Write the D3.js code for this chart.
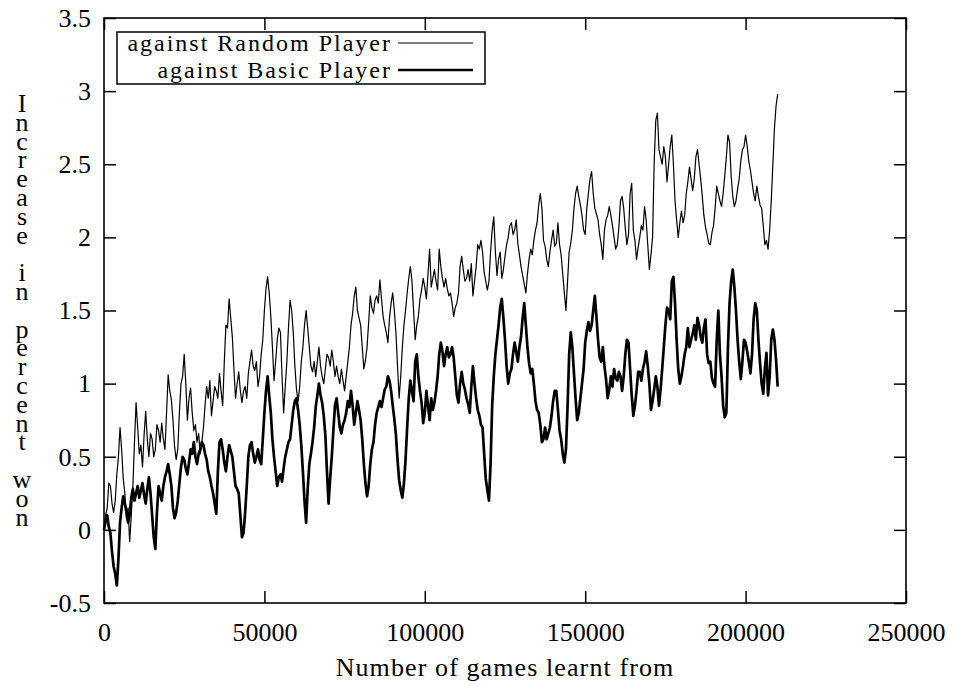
<!DOCTYPE html>
<html>
<head>
<meta charset="utf-8">
<script src="https://cdn.jsdelivr.net/npm/d3@7"></script>
<style>
  body { margin: 0; background: #fff; }
  svg { display: block; }
  text { font-family: "Liberation Serif", "Times New Roman", serif; fill: #000; }
</style>
</head>
<body>
<div id="chart"></div>
<script>
// games learnt from, in thousands
const gamesK = [
  0, 0.5, 1, 1.5, 2, 2.5, 3, 3.5, 4, 4.5, 5, 5.5, 6, 6.5, 7, 7.5, 8, 8.5, 9, 9.5,
  10, 10.5, 11, 11.5, 12, 12.5, 13, 13.5, 14, 14.5, 15, 15.5, 16, 16.5, 17, 17.5, 18, 18.5, 19, 19.5,
  20, 20.5, 21, 21.5, 22, 22.5, 23, 23.5, 24, 24.5, 25, 25.5, 26, 26.5, 27, 27.5, 28, 28.5, 29, 29.5,
  30, 30.5, 31, 31.5, 32, 32.5, 33, 33.5, 34, 34.5, 35, 35.5, 36, 36.5, 37, 37.5, 38, 38.5, 39, 39.5,
  40, 40.5, 41, 41.5, 42, 42.5, 43, 43.5, 44, 44.5, 45, 45.5, 46, 46.5, 47, 47.5, 48, 48.5, 49, 49.5,
  50, 50.5, 51, 51.5, 52, 52.5, 53, 53.5, 54, 54.5, 55, 55.5, 56, 56.5, 57, 57.5, 58, 58.5, 59, 59.5,
  60, 60.5, 61, 61.5, 62, 62.5, 63, 63.5, 64, 64.5, 65, 65.5, 66, 66.5, 67, 67.5, 68, 68.5, 69, 69.5,
  70, 70.5, 71, 71.5, 72, 72.5, 73, 73.5, 74, 74.5, 75, 75.5, 76, 76.5, 77, 77.5, 78, 78.5, 79, 79.5,
  80, 80.5, 81, 81.5, 82, 82.5, 83, 83.5, 84, 84.5, 85, 85.5, 86, 86.5, 87, 87.5, 88, 88.5, 89, 89.5,
  90, 90.5, 91, 91.5, 92, 92.5, 93, 93.5, 94, 94.5, 95, 95.5, 96, 96.5, 97, 97.5, 98, 98.5, 99, 99.5,
  100, 100.5, 101, 101.5, 102, 102.5, 103, 103.5, 104, 104.5, 105, 105.5, 106, 106.5, 107, 107.5, 108, 108.5, 109, 109.5,
  110, 110.5, 111, 111.5, 112, 112.5, 113, 113.5, 114, 114.5, 115, 115.5, 116, 116.5, 117, 117.5, 118, 118.5, 119, 119.5,
  120, 120.5, 121, 121.5, 122, 122.5, 123, 123.5, 124, 124.5, 125, 125.5, 126, 126.5, 127, 127.5, 128, 128.5, 129, 129.5,
  130, 130.5, 131, 131.5, 132, 132.5, 133, 133.5, 134, 134.5, 135, 135.5, 136, 136.5, 137, 137.5, 138, 138.5, 139, 139.5,
  140, 140.5, 141, 141.5, 142, 142.5, 143, 143.5, 144, 144.5, 145, 145.5, 146, 146.5, 147, 147.5, 148, 148.5, 149, 149.5,
  150, 150.5, 151, 151.5, 152, 152.5, 153, 153.5, 154, 154.5, 155, 155.5, 156, 156.5, 157, 157.5, 158, 158.5, 159, 159.5,
  160, 160.5, 161, 161.5, 162, 162.5, 163, 163.5, 164, 164.5, 165, 165.5, 166, 166.5, 167, 167.5, 168, 168.5, 169, 169.5,
  170, 170.5, 171, 171.5, 172, 172.5, 173, 173.5, 174, 174.5, 175, 175.5, 176, 176.5, 177, 177.5, 178, 178.5, 179, 179.5,
  180, 180.5, 181, 181.5, 182, 182.5, 183, 183.5, 184, 184.5, 185, 185.5, 186, 186.5, 187, 187.5, 188, 188.5, 189, 189.5,
  190, 190.5, 191, 191.5, 192, 192.5, 193, 193.5, 194, 194.5, 195, 195.5, 196, 196.5, 197, 197.5, 198, 198.5, 199, 199.5,
  200, 200.5, 201, 201.5, 202, 202.5, 203, 203.5, 204, 204.5, 205, 205.5, 206, 206.5, 207, 207.5, 208, 208.5, 209, 209.5,
  210
];

// increase in percent won against the random player (thin line)
const randomWon = [
  0.00, 0.10, 0.15, 0.32, 0.30, 0.18, 0.12, 0.20, 0.38, 0.50, 0.70, 0.55, 0.35, 0.25, 0.08, 0.15, -0.08, 0.10, 0.30, 0.60,
  0.87, 0.70, 0.52, 0.58, 0.43, 0.65, 0.81, 0.62, 0.50, 0.66, 0.62, 0.50, 0.55, 0.72, 0.68, 0.60, 0.73, 0.62, 0.55, 0.80,
  1.06, 0.95, 0.89, 0.75, 0.57, 0.48, 0.55, 0.80, 1.00, 1.05, 1.20, 1.00, 0.75, 0.90, 0.97, 0.80, 0.68, 0.72, 0.60, 0.66,
  0.52, 0.60, 0.70, 0.85, 0.98, 0.90, 1.02, 0.78, 0.88, 0.98, 0.95, 0.90, 1.07, 0.95, 0.85, 1.15, 1.40, 1.38, 1.58, 1.45,
  1.32, 1.10, 0.90, 1.00, 1.08, 0.95, 0.87, 0.95, 0.98, 0.90, 1.07, 1.15, 1.23, 1.12, 1.09, 1.15, 0.98, 1.05, 1.20, 1.30,
  1.50, 1.65, 1.73, 1.62, 1.46, 1.25, 1.02, 1.15, 1.30, 1.38, 1.35, 1.05, 0.80, 0.98, 1.15, 1.38, 1.57, 1.50, 1.35, 1.12,
  0.96, 0.88, 0.98, 1.15, 1.25, 1.40, 1.50, 1.38, 1.25, 1.12, 1.08, 1.15, 1.05, 1.15, 1.25, 1.12, 1.05, 1.00, 1.10, 1.20,
  1.18, 1.12, 1.23, 1.15, 1.05, 1.12, 1.05, 1.00, 1.10, 1.02, 0.95, 1.05, 1.15, 1.25, 1.40, 1.48, 1.60, 1.66, 1.50, 1.45,
  1.40, 1.25, 1.10, 1.16, 1.25, 1.42, 1.60, 1.52, 1.48, 1.57, 1.60, 1.55, 1.71, 1.58, 1.46, 1.40, 1.35, 1.28, 1.45, 1.55,
  1.62, 1.50, 1.35, 1.12, 0.90, 1.05, 1.25, 1.40, 1.50, 1.62, 1.72, 1.80, 1.70, 1.50, 1.30, 1.40, 1.46, 1.58, 1.64, 1.72,
  1.66, 1.58, 1.75, 1.92, 1.66, 1.72, 1.78, 1.70, 1.64, 1.92, 1.80, 1.72, 1.66, 1.72, 1.65, 1.60, 1.62, 1.55, 1.46, 1.52,
  1.55, 1.62, 1.80, 1.87, 1.78, 1.70, 1.72, 1.78, 1.70, 1.82, 1.60, 1.70, 1.80, 1.95, 1.92, 1.98, 1.90, 1.76, 1.70, 1.64,
  1.70, 1.90, 2.05, 2.14, 1.90, 1.74, 1.85, 1.90, 1.72, 1.78, 1.87, 1.95, 2.00, 2.08, 2.10, 2.02, 2.05, 2.12, 1.96, 1.88,
  1.80, 1.74, 1.68, 1.62, 1.75, 1.85, 1.92, 1.88, 1.98, 2.05, 2.10, 2.22, 2.30, 2.20, 1.98, 1.94, 1.85, 1.80, 1.90, 1.98,
  2.05, 1.94, 1.96, 2.10, 1.95, 1.88, 1.75, 1.62, 1.50, 1.70, 1.90, 1.96, 2.05, 2.20, 2.30, 2.35, 2.28, 2.22, 2.15, 2.05,
  2.02, 2.20, 2.30, 2.40, 2.45, 2.30, 2.20, 2.16, 2.12, 2.02, 1.95, 1.85, 2.05, 2.12, 2.15, 2.21, 2.15, 2.08, 2.00, 1.92,
  1.95, 2.07, 2.25, 2.28, 2.20, 2.06, 1.95, 2.02, 2.30, 2.37, 2.05, 1.98, 1.85, 1.93, 2.00, 2.08, 2.05, 2.21, 2.12, 1.95,
  1.78, 1.88, 2.00, 2.51, 2.80, 2.85, 2.60, 2.55, 2.50, 2.62, 2.55, 2.38, 2.50, 2.62, 2.70, 2.50, 2.25, 2.12, 2.00, 2.10,
  2.18, 2.10, 2.15, 2.30, 2.38, 2.48, 2.40, 2.32, 2.40, 2.55, 2.60, 2.50, 2.40, 2.28, 2.15, 2.07, 2.02, 1.96, 1.95, 2.03,
  2.08, 2.20, 2.35, 2.30, 2.25, 2.21, 2.30, 2.42, 2.55, 2.70, 2.65, 2.42, 2.28, 2.21, 2.25, 2.33, 2.40, 2.52, 2.60, 2.62,
  2.70, 2.62, 2.52, 2.46, 2.38, 2.30, 2.25, 2.35, 2.28, 2.22, 2.20, 2.08, 1.95, 1.98, 1.92, 2.05, 2.25, 2.50, 2.75, 2.90,
  2.98
];

// increase in percent won against the basic player (thick line)
const basicWon = [
  0.00, 0.06, 0.10, 0.02, -0.02, -0.15, -0.25, -0.30, -0.38, -0.20, 0.05, 0.15, 0.23, 0.18, 0.12, 0.05, 0.10, 0.22, 0.28, 0.20,
  0.25, 0.30, 0.22, 0.27, 0.32, 0.24, 0.18, 0.28, 0.36, 0.25, 0.10, -0.05, -0.13, 0.12, 0.30, 0.25, 0.20, 0.30, 0.36, 0.40,
  0.45, 0.38, 0.30, 0.15, 0.08, 0.12, 0.20, 0.32, 0.43, 0.50, 0.48, 0.42, 0.38, 0.46, 0.55, 0.52, 0.60, 0.50, 0.45, 0.52,
  0.55, 0.60, 0.58, 0.52, 0.48, 0.40, 0.36, 0.30, 0.25, 0.18, 0.11, 0.40, 0.60, 0.62, 0.55, 0.46, 0.40, 0.50, 0.58, 0.54,
  0.50, 0.40, 0.30, 0.28, 0.25, 0.10, -0.05, -0.02, 0.12, 0.30, 0.50, 0.58, 0.60, 0.52, 0.46, 0.50, 0.55, 0.48, 0.45, 0.62,
  0.80, 0.95, 1.05, 0.92, 0.80, 0.62, 0.50, 0.40, 0.30, 0.36, 0.38, 0.33, 0.42, 0.50, 0.55, 0.60, 0.62, 0.72, 0.82, 0.88,
  0.90, 0.82, 0.72, 0.58, 0.40, 0.20, 0.05, 0.28, 0.45, 0.52, 0.60, 0.70, 0.84, 0.92, 1.00, 0.92, 0.87, 0.78, 0.65, 0.40,
  0.18, 0.35, 0.50, 0.68, 0.85, 0.90, 0.80, 0.70, 0.66, 0.72, 0.75, 0.80, 0.88, 0.84, 0.95, 0.85, 0.72, 0.80, 0.88, 0.82,
  0.75, 0.62, 0.45, 0.32, 0.23, 0.30, 0.45, 0.55, 0.60, 0.72, 0.80, 0.84, 0.88, 0.84, 0.90, 0.96, 0.98, 1.05, 1.02, 0.95,
  0.85, 0.76, 0.65, 0.48, 0.34, 0.27, 0.22, 0.32, 0.48, 0.70, 0.90, 1.02, 0.95, 0.88, 1.15, 1.20, 1.05, 0.95, 0.87, 0.73,
  0.80, 0.95, 0.85, 0.75, 0.90, 0.82, 0.87, 0.95, 1.05, 1.20, 1.28, 1.22, 1.12, 1.20, 1.25, 1.18, 1.20, 1.25, 1.18, 1.05,
  0.92, 0.87, 1.00, 1.08, 1.00, 0.96, 0.90, 0.86, 0.80, 0.98, 1.12, 1.00, 0.90, 0.82, 0.78, 0.72, 0.70, 0.52, 0.35, 0.27,
  0.20, 0.45, 0.85, 1.05, 1.20, 1.30, 1.40, 1.52, 1.58, 1.45, 1.30, 1.12, 1.00, 1.07, 1.10, 1.20, 1.28, 1.22, 1.15, 1.25,
  1.32, 1.45, 1.55, 1.40, 1.25, 1.14, 1.07, 1.10, 1.00, 0.88, 0.82, 0.80, 0.72, 0.60, 0.62, 0.70, 0.62, 0.66, 0.70, 0.78,
  0.88, 0.95, 0.95, 0.82, 0.68, 0.62, 0.52, 0.46, 0.55, 0.84, 1.20, 1.35, 1.25, 1.07, 0.90, 0.75, 0.80, 0.90, 1.00, 1.10,
  1.28, 1.36, 1.42, 1.36, 1.40, 1.50, 1.60, 1.46, 1.30, 1.18, 1.15, 1.25, 1.12, 1.03, 0.90, 0.96, 1.05, 0.98, 1.10, 1.04,
  1.02, 1.08, 1.05, 0.95, 1.05, 1.20, 1.30, 1.28, 1.10, 0.92, 0.78, 0.85, 0.95, 1.08, 1.08, 1.02, 1.10, 1.15, 1.22, 1.12,
  1.00, 0.82, 0.88, 0.96, 1.05, 0.98, 0.85, 0.96, 1.10, 1.25, 1.40, 1.52, 1.50, 1.44, 1.70, 1.73, 1.55, 1.30, 1.10, 1.00,
  1.05, 1.12, 1.20, 1.25, 1.38, 1.25, 1.30, 1.34, 1.40, 1.30, 1.45, 1.40, 1.32, 1.28, 1.38, 1.44, 1.20, 1.14, 1.15, 1.04,
  1.00, 0.98, 1.30, 1.50, 1.20, 1.05, 0.85, 0.77, 0.80, 1.25, 1.55, 1.70, 1.78, 1.66, 1.50, 1.30, 1.15, 1.03, 1.15, 1.30,
  1.28, 1.22, 1.15, 1.07, 1.20, 1.44, 1.55, 1.50, 1.30, 1.14, 1.00, 0.93, 1.10, 1.21, 0.92, 1.05, 1.30, 1.37, 1.30, 1.16,
  0.98
];

const xTicks = [0, 50000, 100000, 150000, 200000, 250000];
const yTicks = [-0.5, 0, 0.5, 1, 1.5, 2, 2.5, 3, 3.5];
const seriesNames = ["against Random Player", "against Basic Player"];
const yTitle = "Increase in percent won";
const xTitle = "Number of games learnt from";

const width = 959;
const height = 686;
const plotLeft = 104, plotRight = 906, plotTop = 18, plotBottom = 603;

const svg = d3.select("#chart").append("svg")
    .attr("width", width)
    .attr("height", height);

svg.append("rect").attr("width", width).attr("height", height).attr("fill", "#fff");

const x = d3.scaleLinear().domain([0, 250000]).range([plotLeft, plotRight]);
const y = d3.scaleLinear().domain([-0.5, 3.5]).range([plotBottom, plotTop]);

const fmt = d => String(d);

function styleAxis(g) {
    g.select(".domain").remove();
    g.selectAll(".tick line").attr("stroke", "#000").attr("stroke-width", 1.5);
    g.selectAll(".tick text")
        .attr("font-family", "'Liberation Serif', serif")
        .attr("font-size", 26)
        .attr("fill", "#000");
}

// mirrored ticks (top / right) carry no labels
function bareAxis(g) {
    styleAxis(g);
    g.selectAll(".tick text").remove();
}

svg.append("g")
    .attr("transform", `translate(0,${plotBottom})`)
    .call(d3.axisBottom(x).tickValues(xTicks).tickFormat(fmt).tickSizeInner(-12).tickSizeOuter(0).tickPadding(20))
    .call(styleAxis);

svg.append("g")
    .attr("transform", `translate(0,${plotTop})`)
    .call(d3.axisTop(x).tickValues(xTicks).tickSizeInner(-12).tickSizeOuter(0))
    .call(bareAxis);

svg.append("g")
    .attr("transform", `translate(${plotLeft},0)`)
    .call(d3.axisLeft(y).tickValues(yTicks).tickFormat(fmt).tickSizeInner(-12).tickSizeOuter(0).tickPadding(13))
    .call(styleAxis);

svg.append("g")
    .attr("transform", `translate(${plotRight},0)`)
    .call(d3.axisRight(y).tickValues(yTicks).tickSizeInner(-12).tickSizeOuter(0))
    .call(bareAxis);

// data lines
const line = d3.line()
    .x(d => x(d.games))
    .y(d => y(d.won));

const randomRows = gamesK.map((k, i) => ({ games: k * 1000, won: randomWon[i] }));
const basicRows = gamesK.map((k, i) => ({ games: k * 1000, won: basicWon[i] }));

svg.append("path")
    .datum(randomRows)
    .attr("d", line)
    .attr("fill", "none")
    .attr("stroke", "#000")
    .attr("stroke-width", 1.2)
    .attr("stroke-linejoin", "round");

svg.append("path")
    .datum(basicRows)
    .attr("d", line)
    .attr("fill", "none")
    .attr("stroke", "#000")
    .attr("stroke-width", 2.7)
    .attr("stroke-linejoin", "round");

// frame
svg.append("rect")
    .attr("x", plotLeft).attr("y", plotTop)
    .attr("width", plotRight - plotLeft).attr("height", plotBottom - plotTop)
    .attr("fill", "none").attr("stroke", "#000").attr("stroke-width", 1.6);

// legend
const legend = svg.append("g");
legend.append("rect")
    .attr("x", 117).attr("y", 32).attr("width", 368).attr("height", 52)
    .attr("fill", "#fff").attr("stroke", "#000").attr("stroke-width", 1.5);

const legendRows = [
    { name: seriesNames[0], width: 1.2, base: 50.5 },
    { name: seriesNames[1], width: 2.7, base: 77.5 }
];
legendRows.forEach(r => {
    legend.append("text")
        .attr("x", 392).attr("y", r.base)
        .attr("text-anchor", "end")
        .attr("font-size", 24)
        .attr("letter-spacing", 2)
        .text(r.name);
    legend.append("line")
        .attr("x1", 398).attr("x2", 473)
        .attr("y1", r.base - 7.5).attr("y2", r.base - 7.5)
        .attr("stroke", "#000").attr("stroke-width", r.width);
});

// x title
svg.append("text")
    .attr("x", (plotLeft + plotRight) / 2).attr("y", 676)
    .attr("text-anchor", "middle")
    .attr("font-size", 26)
    .attr("letter-spacing", 1.1)
    .text(xTitle);

// y title: one text, each character placed on its own row
const yChars = yTitle.split("").map(c => c === " " ? "\u00a0" : c);
svg.append("text")
    .attr("x", yChars.map(() => 22).join(" "))
    .attr("y", yChars.map((c, i) => (112 + i * 18.8).toFixed(1)).join(" "))
    .attr("text-anchor", "middle")
    .attr("font-size", 26)
    .text(yChars.join(""));
</script>
</body>
</html>
